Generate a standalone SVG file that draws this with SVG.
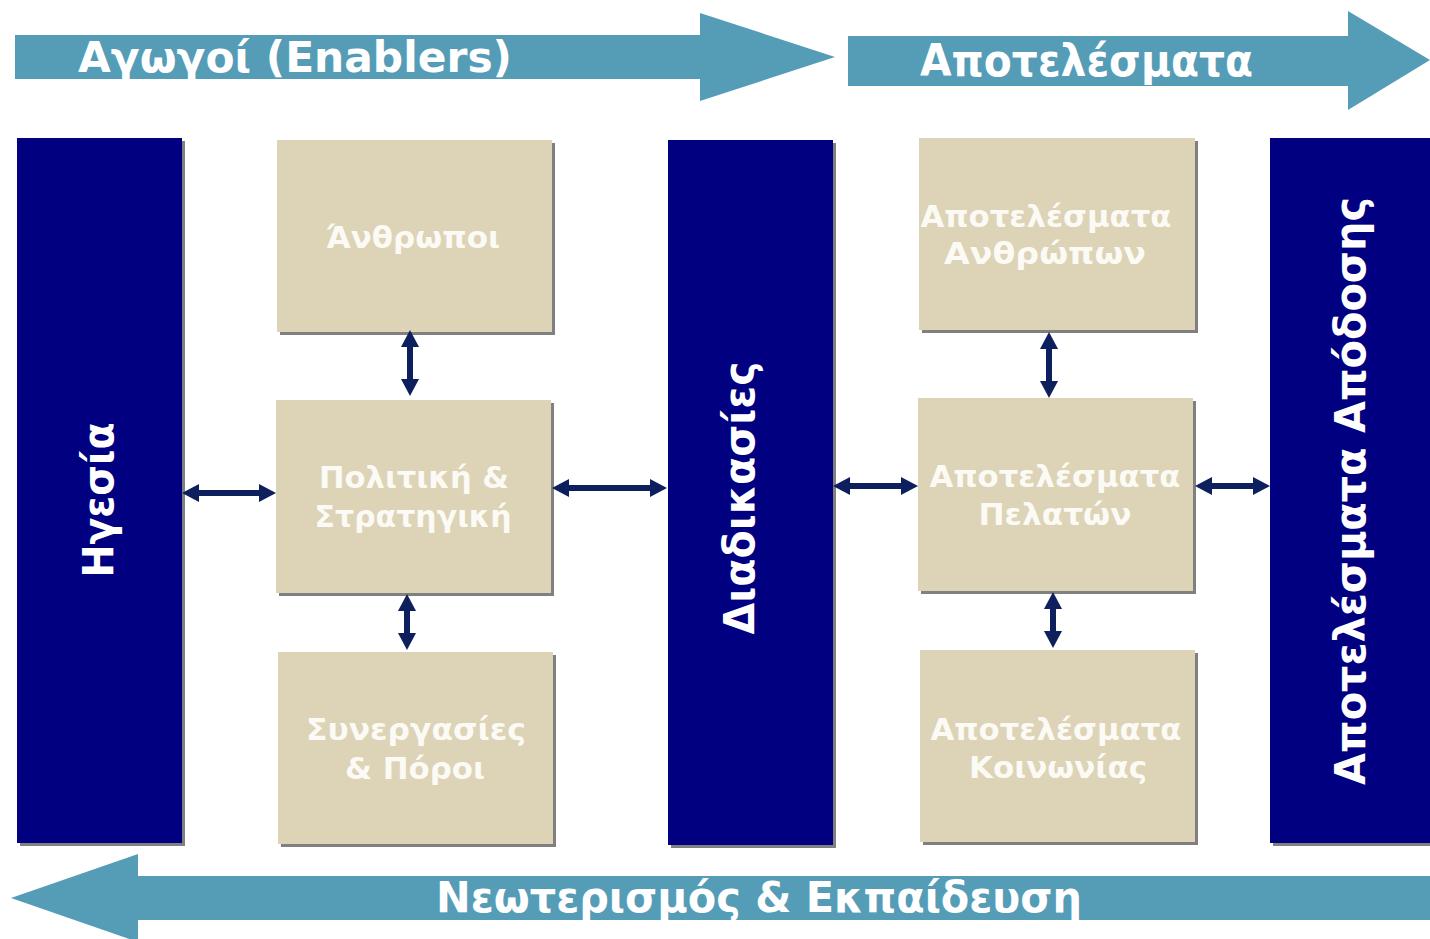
<svg xmlns="http://www.w3.org/2000/svg" width="1430" height="939" viewBox="0 0 1430 939">
<style>
  .band { fill: #559CB7; }
  .bandtxt { font-family: "DejaVu Sans", Verdana, sans-serif; font-weight: bold; fill: #FFFFFF; }
  .col { fill: #000080; }
  .shadow { fill: #808080; }
  .box { fill: #DDD3B6; }
  .coltxt { font-family: "DejaVu Sans", Verdana, sans-serif; font-weight: bold; font-size: 43px; fill: #FFFFFF; text-anchor: middle; }
  .boxtxt { font-family: "DejaVu Sans", Verdana, sans-serif; font-weight: bold; font-size: 30px; fill: #FBFAF5; text-anchor: middle; }
  .conn { stroke: #0D1F5C; stroke-width: 6; fill: none; marker-start: url(#ah); marker-end: url(#ah); }
</style>
<defs>
  <marker id="ah" markerUnits="userSpaceOnUse" markerWidth="20" markerHeight="20" viewBox="0 -10 18 20" refX="0" refY="0" orient="auto-start-reverse" overflow="visible">
    <path d="M0,-9 L17,0 L0,9 Z" fill="#0D1F5C"/>
  </marker>
</defs>
<rect width="1430" height="939" fill="#FFFFFF"/>

<g id="band-enablers">
  <polygon class="band" points="15,35 700,35 700,13 835,57 700,101 700,79 15,79"/>
  <text class="bandtxt" x="78" y="72" font-size="43" textLength="434" lengthAdjust="spacingAndGlyphs">Αγωγοί (Enablers)</text>
</g>
<g id="band-results">
  <polygon class="band" points="848,36 1348,36 1348,11 1430,60 1348,110 1348,86 848,86"/>
  <text class="bandtxt" x="920" y="76" font-size="44" textLength="333" lengthAdjust="spacingAndGlyphs">Αποτελέσματα</text>
</g>
<g id="band-innovation">
  <polygon class="band" points="1430,876 138,876 138,854 11,898 138,942 138,920 1430,920"/>
  <text class="bandtxt" x="436" y="912" font-size="43" textLength="646" lengthAdjust="spacingAndGlyphs">Νεωτερισμός &amp; Εκπαίδευση</text>
</g>

<g id="node-leadership">
  <rect class="shadow" x="20" y="141" width="165" height="705"/>
  <rect class="col" x="17" y="138" width="165" height="705"/>
  <text class="coltxt" transform="translate(113,500) rotate(-90)" textLength="155" lengthAdjust="spacingAndGlyphs">Ηγεσία</text>
</g>
<g id="node-people">
  <rect class="shadow" x="280" y="143" width="275" height="192"/>
  <rect class="box" x="277" y="140" width="275" height="192"/>
  <text class="boxtxt" x="413" y="248" textLength="174" lengthAdjust="spacingAndGlyphs">Άνθρωποι</text>
</g>
<g id="node-policy">
  <rect class="shadow" x="279" y="403" width="275" height="193"/>
  <rect class="box" x="276" y="400" width="275" height="193"/>
  <text class="boxtxt" x="414" y="488" textLength="190" lengthAdjust="spacingAndGlyphs">Πολιτική &amp;</text>
  <text class="boxtxt" x="413" y="527" textLength="197" lengthAdjust="spacingAndGlyphs">Στρατηγική</text>
</g>
<g id="node-partnerships">
  <rect class="shadow" x="281" y="655" width="275" height="192"/>
  <rect class="box" x="278" y="652" width="275" height="192"/>
  <text class="boxtxt" x="416" y="740" textLength="220" lengthAdjust="spacingAndGlyphs">Συνεργασίες</text>
  <text class="boxtxt" x="415" y="779" textLength="140" lengthAdjust="spacingAndGlyphs">&amp; Πόροι</text>
</g>
<g id="node-processes">
  <rect class="shadow" x="671" y="143" width="165" height="705"/>
  <rect class="col" x="668" y="140" width="165" height="705"/>
  <text class="coltxt" transform="translate(754,498) rotate(-90)" textLength="273" lengthAdjust="spacingAndGlyphs">Διαδικασίες</text>
</g>
<g id="node-people-results">
  <rect class="shadow" x="922" y="141" width="276" height="192"/>
  <rect class="box" x="919" y="138" width="276" height="192"/>
  <text class="boxtxt" x="1046" y="227" textLength="251" lengthAdjust="spacingAndGlyphs">Αποτελέσματα</text>
  <text class="boxtxt" x="1045" y="264" textLength="202" lengthAdjust="spacingAndGlyphs">Ανθρώπων</text>
</g>
<g id="node-customer-results">
  <rect class="shadow" x="921" y="401" width="275" height="193"/>
  <rect class="box" x="918" y="398" width="275" height="193"/>
  <text class="boxtxt" x="1055" y="487" textLength="251" lengthAdjust="spacingAndGlyphs">Αποτελέσματα</text>
  <text class="boxtxt" x="1055" y="525" textLength="153" lengthAdjust="spacingAndGlyphs">Πελατών</text>
</g>
<g id="node-society-results">
  <rect class="shadow" x="923" y="653" width="275" height="192"/>
  <rect class="box" x="920" y="650" width="275" height="192"/>
  <text class="boxtxt" x="1056" y="740" textLength="251" lengthAdjust="spacingAndGlyphs">Αποτελέσματα</text>
  <text class="boxtxt" x="1058" y="778" textLength="178" lengthAdjust="spacingAndGlyphs">Κοινωνίας</text>
</g>
<g id="node-performance-results">
  <rect class="shadow" x="1273" y="141" width="160" height="705"/>
  <rect class="col" x="1270" y="138" width="160" height="705"/>
  <text class="coltxt" transform="translate(1365,491) rotate(-90)" textLength="588" lengthAdjust="spacingAndGlyphs">Αποτελέσματα Απόδοσης</text>
</g>

<g id="connectors">
  <line class="conn" x1="199" y1="493" x2="259" y2="493"/>
  <line class="conn" x1="410" y1="347" x2="410" y2="379"/>
  <line class="conn" x1="407" y1="611" x2="407" y2="633"/>
  <line class="conn" x1="569" y1="488" x2="650" y2="488"/>
  <line class="conn" x1="850" y1="486" x2="901" y2="486"/>
  <line class="conn" x1="1049" y1="349" x2="1049" y2="381"/>
  <line class="conn" x1="1053" y1="609" x2="1053" y2="631"/>
  <line class="conn" x1="1212" y1="486" x2="1253" y2="486"/>
</g>
</svg>
